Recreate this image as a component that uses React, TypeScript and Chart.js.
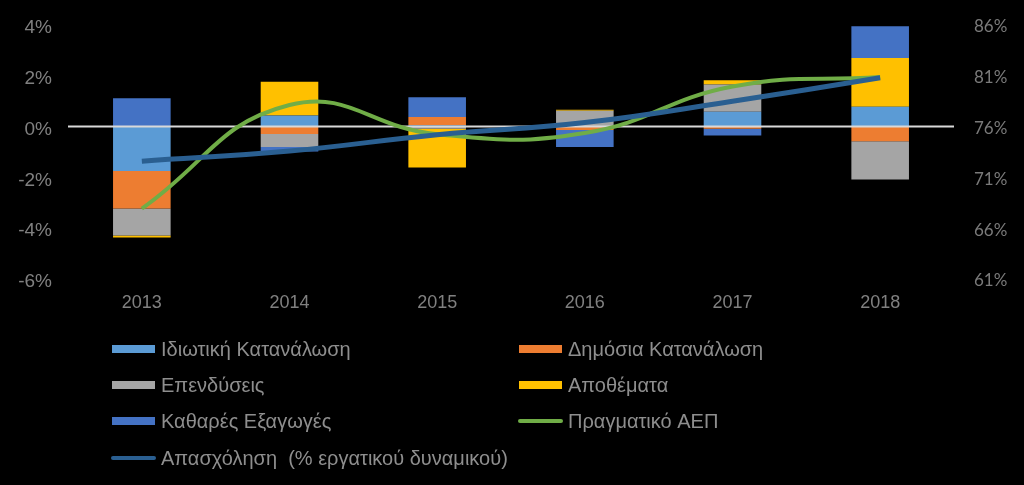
import { useEffect, useRef } from 'react';
import { Chart, registerables } from 'chart.js';

Chart.register(...registerables);

// ---- Data ----
const years = ['2013', '2014', '2015', '2016', '2017', '2018'];
const privateConsumption = [-1.75, 0.44, 0.05, 0.02, 0.58, 0.78];
const publicConsumption = [-1.47, -0.29, 0.33, -0.13, -0.08, -0.58];
const investment = [-1.07, -0.51, -0.08, 0.6, 1.08, -1.5];
const inventories = [-0.08, 1.33, -1.53, 0.04, 0.16, 1.92];
const netExports = [1.12, -0.18, 0.78, -0.67, -0.27, 1.25];
const realGdp = [-3.23, 0.85, -0.3, -0.25, 1.58, 1.95];
const employment = [72.6, 73.6, 75.2, 76.4, 78.5, 80.8];

const leftTicks = [-6, -4, -2, 0, 2, 4];
const rightTicks = [61, 66, 71, 76, 81, 86];

const labels = [
  'Ιδιωτική Κατανάλωση',
  'Δημόσια Κατανάλωση',
  'Επενδύσεις',
  'Αποθέματα',
  'Καθαρές Εξαγωγές',
  'Πραγματικό ΑΕΠ',
  'Απασχόληση  (% εργατικού δυναμικού)',
];

const colors = ['#5B9BD5', '#ED7D31', '#A5A5A5', '#FFC000', '#4472C4', '#70AD47', '#2A5F91'];

export default function App() {
  const ref = useRef<HTMLCanvasElement>(null);

  useEffect(() => {
    document.body.style.margin = '0';
    document.body.style.background = '#000';
    if (!ref.current) return;

    const zeroLine = {
      id: 'zeroLine',
      beforeDatasetDraw(chart: any, args: any) {
        if (args.index !== 5) return;
        const ctx = chart.ctx;
        const y = chart.scales.y.getPixelForValue(0);
        const { left, right } = chart.chartArea;
        ctx.save();
        ctx.strokeStyle = '#d9d9d9';
        ctx.lineWidth = 2;
        ctx.beginPath();
        ctx.moveTo(left, y);
        ctx.lineTo(right, y);
        ctx.stroke();
        ctx.restore();
      },
    };

    const customLegend = {
      id: 'customLegend',
      afterDraw(chart: any) {
        const ctx = chart.ctx;
        const colX = [112, 519];
        const rowY = [349, 385, 421, 458];
        ctx.save();
        ctx.font = '20px "Liberation Sans", Arial, sans-serif';
        ctx.textBaseline = 'middle';
        ctx.textAlign = 'left';
        chart.data.datasets.forEach((ds: any, i: number) => {
          const x = colX[i % 2];
          const y = rowY[Math.floor(i / 2)];
          if (ds.type === 'line') {
            ctx.strokeStyle = ds.borderColor;
            ctx.lineWidth = 4;
            ctx.lineCap = 'round';
            ctx.beginPath();
            ctx.moveTo(x + 1, y);
            ctx.lineTo(x + 42, y);
            ctx.stroke();
          } else {
            ctx.fillStyle = ds.backgroundColor;
            ctx.fillRect(x, y - 4, 43, 8);
          }
          ctx.fillStyle = '#8e8e8e';
          ctx.fillText(ds.label, x + 49, y + 1);
        });
        ctx.restore();
      },
    };

    const barDs = (i: number, data: number[]) => ({
      type: 'bar' as const,
      label: labels[i],
      data,
      backgroundColor: colors[i],
      borderWidth: 0,
      yAxisID: 'y',
      stack: 'components',
      order: 2,
      barPercentage: 0.39,
      categoryPercentage: 1,
    });

    const chart = new Chart(ref.current, {
      type: 'bar',
      data: {
        labels: years,
        datasets: [
          barDs(0, privateConsumption),
          barDs(1, publicConsumption),
          barDs(2, investment),
          barDs(3, inventories),
          barDs(4, netExports),
          {
            type: 'line',
            label: labels[5],
            data: realGdp,
            borderColor: colors[5],
            backgroundColor: colors[5],
            borderWidth: 4,
            pointRadius: 0,
            tension: 0.45,
            yAxisID: 'y',
            stack: 'gdp',
            order: 1,
          } as any,
          {
            type: 'line',
            label: labels[6],
            data: employment,
            borderColor: colors[6],
            backgroundColor: colors[6],
            borderWidth: 5,
            pointRadius: 0,
            tension: 0.45,
            yAxisID: 'y1',
            order: 0,
          } as any,
        ],
      },
      options: {
        responsive: false,
        devicePixelRatio: 1,
        animation: false,
        layout: { autoPadding: false, padding: { top: 25, bottom: 166, left: 0, right: 0 } },
        plugins: {
          legend: { display: false },
          tooltip: { enabled: false },
        },
        scales: {
          x: {
            stacked: true,
            grid: { display: false, drawTicks: false },
            border: { display: false },
            ticks: {
              color: '#808080',
              font: { family: '"Liberation Sans", Arial, sans-serif', size: 18 },
              padding: 13,
            },
            afterFit(s: any) {
              s.height = 40;
            },
          },
          y: {
            type: 'linear',
            position: 'left',
            stacked: true,
            min: leftTicks[0],
            max: leftTicks[leftTicks.length - 1],
            grid: { display: false, drawTicks: false },
            border: { display: false },
            ticks: {
              stepSize: 2,
              color: '#808080',
              font: { family: '"Liberation Sans", Arial, sans-serif', size: 19 },
              padding: 16,
              labelOffset: 3,
              callback: (v: any) => `${v}%`,
            },
            afterFit(s: any) {
              s.width = 68;
              s.paddingTop = 0;
              s.paddingBottom = 0;
            },
          },
          y1: {
            type: 'linear',
            position: 'right',
            min: rightTicks[0],
            max: rightTicks[rightTicks.length - 1],
            grid: { display: false, drawTicks: false },
            border: { display: false },
            ticks: {
              stepSize: 5,
              color: '#7a7a7a',
              font: { family: 'Lato, sans-serif', size: 17 },
              padding: 20,
              labelOffset: 2,
              callback: (v: any) => `${v}%`,
            },
            afterFit(s: any) {
              s.width = 70;
              s.paddingTop = 0;
              s.paddingBottom = 0;
            },
          },
        },
      },
      plugins: [zeroLine, customLegend],
    });

    return () => chart.destroy();
  }, []);

  return (
    <div style={{ position: 'absolute', left: 0, top: 0, width: 1024, height: 485, background: '#000' }}>
      <canvas ref={ref} width={1024} height={485} style={{ display: 'block' }} />
    </div>
  );
}
